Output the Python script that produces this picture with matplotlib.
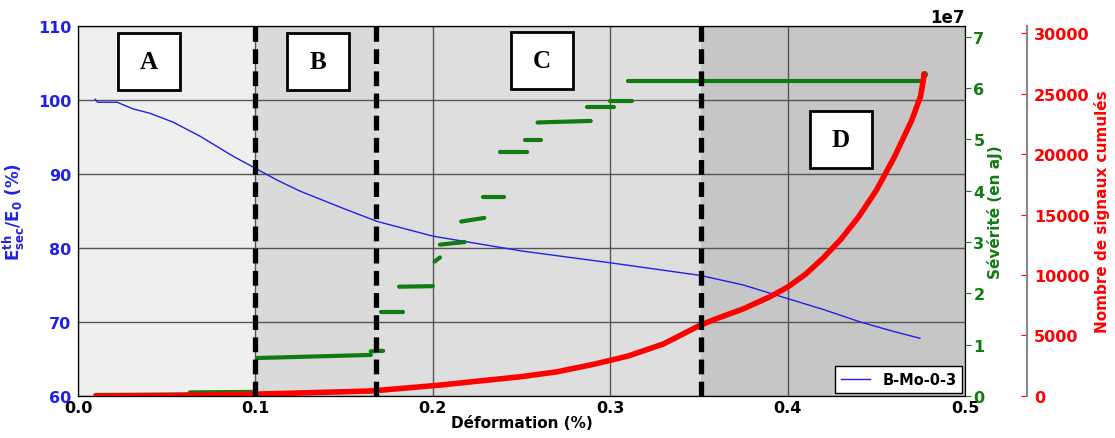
import matplotlib
matplotlib.use("Agg")
import matplotlib.pyplot as plt
from matplotlib.patches import Rectangle
import numpy as np

plt.rcParams['font.family'] = ['DejaVu Sans']
plt.rcParams['font.weight'] = 'bold'
plt.rcParams['axes.labelweight'] = 'bold'

# module secant (blue)
blue_x = [0.0096, 0.011, 0.022, 0.031, 0.0406, 0.0536, 0.0688, 0.0874, 0.0986,
          0.112, 0.125, 0.15, 0.1685, 0.200, 0.25, 0.300, 0.3506, 0.375, 0.394,
          0.42, 0.441, 0.46, 0.4746]
blue_y = [100.1, 99.7, 99.7, 98.8, 98.2, 97.0, 95.1, 92.4, 90.95,
          89.2, 87.7, 85.3, 83.6, 81.6, 79.6, 78.0, 76.3, 75.0, 73.6,
          71.7, 70.0, 68.7, 67.8]

# cumulated signals (red)
red_x = [0.010, 0.05, 0.10, 0.15, 0.166, 0.204, 0.25, 0.27, 0.29, 0.31, 0.33,
         0.35, 0.36, 0.375, 0.39, 0.40, 0.41, 0.42, 0.43, 0.44, 0.45,
         0.46, 0.47, 0.475, 0.477]
red_y = [0, 30, 150, 350, 420, 900, 1600, 2000, 2600, 3300, 4300,
         5800, 6400, 7200, 8200, 9000, 10050, 11400, 12950, 14800, 17000,
         19700, 22800, 24800, 26600]

# severity steps (green), in units of 1e7
sev_x0 = [0.010, 0.063, 0.101, 0.165, 0.171, 0.181, 0.201, 0.204, 0.216, 0.228,
          0.238, 0.252, 0.259, 0.287, 0.300, 0.310]
sev_x1 = [0.063, 0.099, 0.165, 0.172, 0.183, 0.200, 0.204, 0.218, 0.229, 0.240,
          0.253, 0.261, 0.289, 0.302, 0.312, 0.477]
sev_y0 = [0.02, 0.07, 0.74, 0.87, 1.64, 2.13, 2.62, 2.95, 3.40, 3.88,
          4.76, 4.99, 5.33, 5.63, 5.75, 6.14]
sev_y1 = [0.03, 0.08, 0.80, 0.88, 1.64, 2.14, 2.70, 3.00, 3.47, 3.88,
          4.76, 4.99, 5.36, 5.63, 5.75, 6.14]
sev_end = (0.477, 6.28)

zones = [0.0, 0.1, 0.168, 0.351, 0.5]
zone_colors = ['#efefef', '#dadada', '#dedede', '#c6c6c6']
labels = ['A', 'B', 'C', 'D']
# box centres in axes fraction
label_pos = [(0.080, 0.903), (0.2706, 0.903), (0.523, 0.908), (0.860, 0.692)]
box_w, box_h = 0.0699, 0.154

blue = '#2020e8'
green = '#117a11'
red = '#ff0000'

fig = plt.figure(figsize=(11.15, 4.39), dpi=100)
ax = fig.add_axes([0.070, 0.0957, 0.7955, 0.8428])
ax2 = ax.twinx()
ax3 = ax.twinx()

for i in range(len(zone_colors)):
    ax.axvspan(zones[i], zones[i + 1], color=zone_colors[i], zorder=0, lw=0)

ax.plot(blue_x, blue_y, color=blue, lw=1, label='B-Mo-0-3', zorder=3)
ax.set_xlim(0, 0.5)
ax.set_ylim(60, 110)
ax.set_xticks([0.0, 0.1, 0.2, 0.3, 0.4, 0.5])
ax.set_yticks([60, 70, 80, 90, 100, 110])
ax.grid(True, color='#555555', lw=1)
ax.set_axisbelow(False)
for ln in ax.get_xgridlines() + ax.get_ygridlines():
    ln.set_zorder(1)
ax.tick_params(axis='y', colors=blue, labelsize=11.5, length=0, pad=5)
ax.tick_params(axis='x', labelsize=11.5, length=0, pad=3)
ax.set_xlabel('Déformation (%)', fontsize=11, labelpad=0)
ax.set_ylabel(r'$\mathbf{E^{th}_{sec}/E_0}$ (%)', color=blue, fontsize=12, labelpad=8)
for s in ax.spines.values():
    s.set_color('#444444')

for i in range(len(sev_x0)):
    ax2.plot([sev_x0[i], sev_x1[i]], [sev_y0[i] * 1e7, sev_y1[i] * 1e7],
             color=green, lw=3, solid_capstyle='round')
ax2.plot([sev_end[0]], [sev_end[1] * 1e7], 'o', color=green, ms=4)
ax2.set_ylim(0, 7.21e7)
ax2.set_yticks(np.arange(0, 8) * 1e7)
ax2.tick_params(axis='y', colors=green, labelsize=11.5, length=4, pad=2)
ax2.yaxis.get_offset_text().set_fontsize(12)
ax2.yaxis.get_offset_text().set_color('black')
ax2.set_ylabel('Sévérité (en aJ)', color=green, fontsize=11, labelpad=2)

ax3.plot(red_x, red_y, color=red, lw=4, solid_capstyle='round')
ax3.set_ylim(0, 30580)
ax3.set_yticks([0, 5000, 10000, 15000, 20000, 25000, 30000])
ax3.spines['right'].set_position(('axes', 1.07))
ax3.spines['right'].set_color('#888888')
ax3.spines['right'].set_linewidth(1.5)
ax3.tick_params(axis='y', colors=red, labelsize=11.5, direction='in', length=4, pad=5)
ax3.set_ylabel('Nombre de signaux cumulés', color=red, fontsize=11, labelpad=3)

for xv in zones[1:4]:
    ax3.axvline(xv, color='black', lw=3.8, linestyle=(0, (2.8, 1.4)), zorder=5)

for lab, (px, py) in zip(labels, label_pos):
    ax3.add_patch(Rectangle((px - box_w / 2, py - box_h / 2), box_w, box_h,
                            transform=ax3.transAxes, fc='white', ec='black',
                            lw=2, zorder=6))
    ax3.text(px, py, lab, transform=ax3.transAxes, ha='center', va='center',
             fontsize=18, family='Liberation Serif', fontweight='bold', zorder=7)

leg = ax.legend(loc='lower right', fontsize=10.5, fancybox=False,
                edgecolor='black', framealpha=1, borderaxespad=0.2)
leg.set_zorder(7)

fig.savefig('out.png', dpi=100)
